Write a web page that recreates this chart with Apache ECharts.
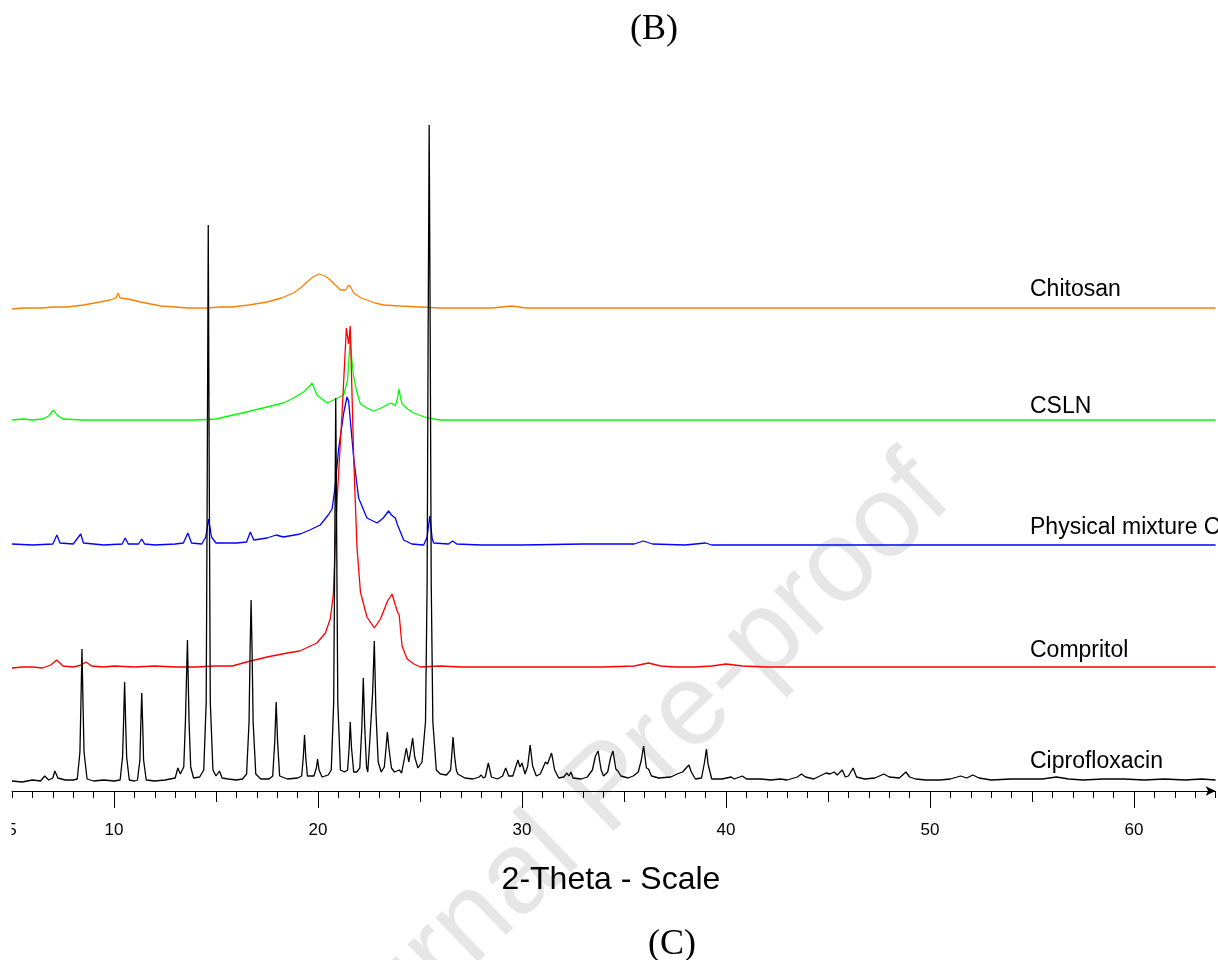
<!DOCTYPE html>
<html>
<head>
<meta charset="utf-8">
<script src="https://cdn.jsdelivr.net/npm/echarts@6/dist/echarts.min.js"></script>
<style>
  html, body { margin: 0; padding: 0; background: #fff; }
  #chart { width: 1218px; height: 960px; }
</style>
</head>
<body>
<div id="chart"></div>
<script>
// ---------------- DATA (2-Theta, intensity a.u. above each trace's own baseline) ----------------
const xMin = 5;
const xMax = 64;
const tickLabels = [5, 10, 20, 30, 40, 50, 60];
const majorTicks = [10, 20, 30, 40, 50, 60];
const mediumTicks = [15, 25, 35, 45, 55];

const seriesNames = ['Chitosan', 'CSLN', 'Physical mixture C', 'Compritol', 'Ciprofloxacin'];

const ciprofloxacin = [
  [5.0, 1], [5.5, 0], [6.0, 2], [6.4, 1], [6.6, 6], [6.8, 2], [7.0, 4], [7.1, 11], [7.25, 4], [7.6, 2], [8.0, 2],
  [8.2, 3], [8.33, 30], [8.38, 80], [8.43, 133], [8.48, 80], [8.53, 30], [8.68, 3],
  [9.0, 1], [9.5, 2], [10.0, 1],
  [10.3, 2], [10.42, 25], [10.47, 60], [10.52, 100], [10.57, 60], [10.62, 25], [10.75, 2],
  [11.0, 1],
  [11.15, 2], [11.27, 22], [11.31, 55], [11.36, 89], [11.41, 55], [11.45, 22], [11.58, 2],
  [12.0, 1], [12.5, 2], [13.0, 4], [13.13, 14], [13.25, 8],
  [13.42, 15], [13.5, 60], [13.6, 142], [13.68, 60], [13.76, 15], [13.9, 4],
  [14.2, 5],
  [14.4, 12], [14.52, 80], [14.57, 300], [14.62, 557], [14.67, 300], [14.72, 80], [14.85, 12],
  [15.0, 6], [15.17, 11], [15.3, 4], [15.6, 3], [16.0, 2], [16.3, 3],
  [16.5, 8], [16.62, 60], [16.67, 130], [16.72, 182], [16.77, 130], [16.82, 60], [16.95, 8],
  [17.2, 3], [17.6, 3],
  [17.78, 6], [17.88, 40], [17.95, 80], [18.02, 40], [18.12, 6],
  [18.5, 3], [19.0, 4],
  [19.2, 6], [19.28, 25], [19.34, 47], [19.4, 25], [19.48, 6],
  [19.8, 6], [19.92, 14], [19.98, 23], [20.05, 12], [20.2, 5],
  [20.5, 7],
  [20.65, 12], [20.77, 80], [20.82, 230], [20.87, 384], [20.92, 230], [20.97, 80], [21.1, 12],
  [21.3, 10],
  [21.45, 12], [21.53, 35], [21.58, 60], [21.64, 35], [21.75, 10],
  [21.9, 10],
  [22.05, 14], [22.15, 55], [22.22, 104], [22.29, 55], [22.38, 15], [22.44, 10],
  [22.55, 45], [22.68, 90], [22.76, 141], [22.84, 70], [22.95, 20], [23.1, 10],
  [23.25, 15], [23.34, 35], [23.4, 50], [23.47, 35], [23.6, 14],
  [23.75, 10], [23.99, 12], [24.1, 9],
  [24.25, 25], [24.33, 34], [24.45, 20], [24.55, 32], [24.64, 44], [24.74, 25], [24.9, 14],
  [25.1, 20], [25.27, 60], [25.35, 200], [25.4, 450], [25.45, 657], [25.5, 450], [25.55, 200], [25.63, 60], [25.8, 12],
  [26.0, 8], [26.3, 7],
  [26.5, 12], [26.57, 30], [26.62, 45], [26.7, 25], [26.78, 12], [26.85, 8], [27.2, 4], [27.6, 3], [27.9, 5], [28.0, 7], [28.1, 4],
  [28.2, 5], [28.35, 19], [28.5, 5],
  [28.8, 3], [29.05, 6], [29.2, 14], [29.35, 6], [29.55, 6], [29.8, 22], [29.9, 15], [30.0, 19], [30.15, 8],
  [30.28, 16], [30.4, 37], [30.52, 16], [30.7, 6], [30.9, 8], [31.15, 20], [31.25, 18], [31.45, 29], [31.6, 12],
  [31.8, 4], [32.05, 5], [32.2, 9], [32.3, 6], [32.4, 10], [32.5, 4], [32.9, 3], [33.2, 5],
  [33.45, 12], [33.6, 26], [33.73, 31], [33.88, 12], [34.0, 6], [34.2, 10], [34.35, 25], [34.46, 31], [34.6, 13],
  [34.7, 11], [34.85, 6], [35.2, 4], [35.45, 6], [35.7, 10], [35.85, 22], [35.96, 36], [36.1, 14], [36.2, 13],
  [36.35, 6], [36.7, 4], [37.3, 5], [37.6, 8], [37.87, 10], [37.95, 9], [38.18, 17], [38.3, 10], [38.5, 3],
  [38.8, 4], [38.95, 20], [39.04, 33], [39.12, 18], [39.3, 3], [39.8, 3], [40.25, 5], [40.4, 3], [40.8, 6],
  [41.0, 3], [41.7, 3], [42.2, 2], [42.66, 3], [43.0, 2], [43.5, 5], [43.7, 8], [43.9, 5], [44.3, 3],
  [44.7, 7], [44.9, 9], [45.1, 8], [45.3, 10], [45.45, 7], [45.7, 12], [45.85, 5], [46.0, 6], [46.23, 14],
  [46.4, 5], [46.8, 3], [47.3, 4], [47.74, 8], [48.0, 5], [48.5, 4], [48.82, 10], [49.0, 5], [49.3, 3],
  [49.8, 2], [50.5, 2], [51.0, 3], [51.5, 6], [51.8, 4], [52.1, 7], [52.4, 4], [53.0, 2], [54.0, 3],
  [55.0, 3], [55.5, 3], [56.2, 5], [56.8, 3], [57.5, 2], [58.5, 3], [59.5, 3], [60.5, 2], [61.5, 3],
  [62.5, 2], [63.3, 3], [64.0, 2]
];

const compritol = [
  [5.0, -1], [5.5, 0], [6.0, 0], [6.5, -1], [6.9, 2], [7.19, 7], [7.5, 1], [8.0, 0], [8.4, 2], [8.63, 5],
  [8.9, 1], [9.5, 0], [10.0, 1], [11.0, 0], [12.0, 1], [13.0, 0], [14.0, 0], [15.0, 1], [15.8, 1],
  [16.5, 5], [17.5, 10], [18.5, 14], [19.1, 16], [19.95, 24], [20.36, 34], [20.6, 48], [20.75, 72],
  [20.93, 165], [21.18, 254], [21.39, 339], [21.5, 323], [21.58, 341], [21.75, 209], [21.91, 120],
  [22.08, 75], [22.4, 50], [22.76, 39], [23.06, 48], [23.41, 66], [23.63, 73], [23.79, 62], [23.9, 55],
  [23.98, 52], [24.12, 21], [24.37, 8], [24.7, 3], [25.02, 0], [26.0, 1], [27.0, 0], [28.0, 0],
  [30.0, 0], [32.0, 0], [34.0, 0], [35.5, 1], [36.2, 4], [36.8, 1], [37.5, 0], [38.5, 0], [39.3, 1],
  [40.0, 3], [40.8, 1], [42.0, 0], [45.0, 0], [48.0, 0], [52.0, 0], [56.0, 0], [60.0, 0], [64.0, 0]
];

const physicalMixture = [
  [5.0, 1], [6.0, 0], [7.0, 1], [7.2, 10], [7.35, 2], [8.0, 1], [8.37, 11], [8.5, 2], [9.5, 0],
  [10.4, 1], [10.55, 7], [10.7, 1], [11.2, 1], [11.36, 6], [11.5, 1], [12.0, 0], [13.0, 1], [13.4, 2],
  [13.62, 12], [13.8, 2], [14.3, 1], [14.5, 8], [14.64, 26], [14.78, 8], [15.0, 2], [16.0, 2], [16.5, 3],
  [16.68, 13], [16.85, 5], [17.5, 7], [17.95, 10], [18.3, 8], [19.13, 11], [19.6, 15], [20.11, 20],
  [20.5, 30], [20.69, 36], [20.85, 60], [21.01, 96], [21.26, 132], [21.42, 148], [21.5, 144],
  [21.58, 145], [21.75, 87], [21.99, 47], [22.4, 27], [22.9, 22], [23.2, 27], [23.46, 34], [23.6, 30],
  [23.79, 27], [23.9, 20], [24.2, 5], [24.6, 1], [25.18, 0], [25.35, 8], [25.48, 29], [25.6, 6],
  [25.67, 2], [26.4, 1], [26.6, 4], [26.8, 1], [28.0, 0], [30.0, 0], [33.0, 1], [35.5, 1], [35.95, 4],
  [36.4, 1], [38.0, 0], [39.0, 2], [39.3, 0], [42.0, 0], [46.0, 0], [50.0, 0], [54.0, 0], [58.0, 0],
  [62.0, 0], [64.0, 0]
];

const csln = [
  [5.0, 0], [5.5, 1], [6.0, 0], [6.5, 1], [6.8, 4], [7.03, 10], [7.2, 5], [7.5, 1], [8.5, 0], [10.0, 0],
  [12.0, 0], [14.0, 0], [15.0, 1], [15.84, 5], [16.7, 9], [17.5, 13], [18.3, 17], [18.8, 22], [19.29, 28],
  [19.55, 33], [19.71, 37], [19.85, 30], [19.95, 25], [20.44, 17], [20.77, 20], [21.26, 25], [21.45, 40],
  [21.58, 81], [21.66, 60], [21.75, 43], [21.9, 28], [22.08, 16], [22.4, 12], [22.73, 9], [23.1, 12],
  [23.46, 16], [23.6, 17], [23.79, 14], [23.9, 22], [23.96, 31], [24.05, 22], [24.12, 16], [24.4, 11],
  [24.69, 7], [25.35, 2], [26.0, 0], [28.0, 0], [32.0, 0], [36.0, 0], [40.0, 0], [45.0, 0], [50.0, 0],
  [55.0, 0], [60.0, 0], [64.0, 0]
];

const chitosan = [
  [5.0, -1], [5.5, 0], [6.0, 0], [6.5, 0], [7.0, 1], [7.7, 1], [8.5, 3], [9.3, 6], [9.8, 8], [10.1, 10],
  [10.2, 15], [10.3, 10], [10.7, 9], [11.3, 6], [11.8, 4], [12.3, 2], [13.0, 1], [13.6, 0], [14.5, 0],
  [15.2, 1], [15.8, 1], [16.6, 3], [17.5, 6], [18.2, 10], [18.8, 15], [19.2, 21], [19.46, 26], [19.75, 31],
  [20.05, 34], [20.35, 32], [20.6, 28], [20.85, 23], [21.09, 18], [21.35, 18], [21.5, 23], [21.6, 21],
  [21.75, 15], [22.1, 10], [22.4, 8], [22.8, 5], [23.2, 3], [24.0, 2], [25.0, 1], [26.0, 0], [27.0, 0],
  [28.5, 0], [29.5, 2], [30.2, 0], [32.0, 0], [35.0, 0], [40.0, 0], [45.0, 0], [50.0, 0], [55.0, 0],
  [60.0, 0], [64.0, 0]
];

// ---------------- LAYOUT / STYLE ----------------
const traceStyle = [
  { data: chitosan,        color: '#ff8000', offset: 483 },
  { data: csln,            color: '#00ff00', offset: 371 },
  { data: physicalMixture, color: '#0000ff', offset: 246 },
  { data: compritol,       color: '#ff0000', offset: 124 },
  { data: ciprofloxacin,   color: '#000000', offset: 9 }
];
const labelPos = [
  { x: 1030, y: 290 },
  { x: 1030, y: 407 },
  { x: 1030, y: 528 },
  { x: 1030, y: 651 },
  { x: 1030, y: 762 }
];

const sans = '"Liberation Sans", Arial, sans-serif';
const serif = '"Liberation Serif", "Times New Roman", serif';

const chart = echarts.init(document.getElementById('chart'), null, { renderer: 'canvas' });

const series = traceStyle.map((t, i) => ({
  name: seriesNames[i],
  type: 'line',
  xAxisIndex: 0,
  yAxisIndex: 0,
  data: t.data.map(p => [p[0], p[1] + t.offset]),
  symbol: 'none',
  showSymbol: false,
  smooth: false,
  silent: true,
  z: 2 + i,
  lineStyle: { color: t.color, width: 1.3 }
}));

const commonX = { type: 'value', min: xMin, max: xMax, position: 'bottom', gridIndex: 0, splitLine: { show: false } };

const graphics = [
  {
    type: 'text', z: 0, silent: true,
    x: 610, y: 790, rotation: 44 * Math.PI / 180,
    style: { text: 'Journal Pre-proof', font: '116px ' + sans, fill: '#e6e6e6', align: 'center', verticalAlign: 'middle' }
  },
  {
    type: 'text', z: 50, x: 654, y: 30,
    style: { text: '(B)', font: '36px ' + serif, fill: '#000', align: 'center', verticalAlign: 'middle' }
  },
  {
    type: 'text', z: 50, x: 672, y: 945,
    style: { text: '(C)', font: '36px ' + serif, fill: '#000', align: 'center', verticalAlign: 'middle' }
  },
  {
    type: 'text', z: 50, x: 611, y: 880,
    style: { text: '2-Theta - Scale', font: '32px ' + sans, fill: '#000', align: 'center', verticalAlign: 'middle' }
  },
  {
    type: 'rect', z: 100, shape: { x: 0, y: 812, width: 11.5, height: 40 },
    style: { fill: '#fff' }
  }
];
seriesNames.forEach((n, i) => {
  graphics.push({
    type: 'text', z: 50, x: labelPos[i].x, y: labelPos[i].y,
    style: { text: n, font: '23px ' + sans, fill: '#000', align: 'left', verticalAlign: 'middle' }
  });
});

chart.setOption({
  animation: false,
  backgroundColor: '#ffffff',
  grid: { left: 12, right: 2.4, top: 101, bottom: 169, containLabel: false, outerBoundsMode: 'none' },
  xAxis: [
    Object.assign({}, commonX, {
      interval: 1,
      axisLine: { show: true, lineStyle: { color: '#000', width: 1 }, symbol: ['none', 'arrow'], symbolSize: [7, 10] },
      axisTick: { show: true, length: 7, lineStyle: { color: '#000', width: 1 } },
      axisLabel: { show: false }
    }),
    Object.assign({}, commonX, {
      interval: 5,
      axisLine: { show: false },
      axisTick: { show: true, length: 11, customValues: mediumTicks, lineStyle: { color: '#000', width: 1 } },
      axisLabel: { show: false }
    }),
    Object.assign({}, commonX, {
      interval: 5,
      axisLine: { show: false },
      axisTick: { show: true, length: 17, customValues: majorTicks, lineStyle: { color: '#000', width: 1 } },
      axisLabel: { show: true, customValues: tickLabels, margin: 31, fontSize: 17, fontFamily: sans, color: '#000' }
    })
  ],
  yAxis: { type: 'value', min: 0, max: 690, show: false },
  series: series,
  graphic: graphics
});
</script>
</body>
</html>
